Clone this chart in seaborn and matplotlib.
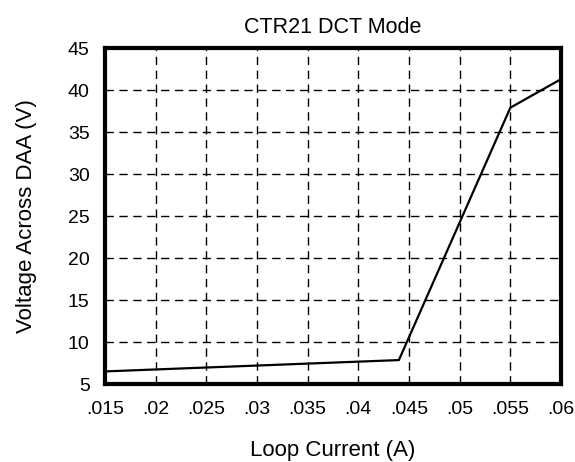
import matplotlib
matplotlib.use('Agg')
import matplotlib.pyplot as plt
import seaborn as sns
import pandas as pd

# data
loop_current = [0.015, 0.044, 0.055, 0.060]
voltage = [6.5, 7.85, 37.9, 41.3]
x_ticks = [0.015, 0.02, 0.025, 0.03, 0.035, 0.04, 0.045, 0.05, 0.055, 0.06]
x_labels = ['.015', '.02', '.025', '.03', '.035', '.04', '.045', '.05', '.055', '.06']
y_ticks = [5, 10, 15, 20, 25, 30, 35, 40, 45]

df = pd.DataFrame({'current': loop_current, 'voltage': voltage})

sns.set_style('white')
plt.rcParams['font.family'] = ['Liberation Sans', 'DejaVu Sans']
plt.rcParams['text.color'] = 'black'
plt.rcParams['axes.labelcolor'] = 'black'

fig = plt.figure(figsize=(5.75, 4.62), dpi=100)
ax = fig.add_axes([0.1826, 0.1688, 0.7931, 0.7272])

sns.lineplot(data=df, x='current', y='voltage', color='black', linewidth=1.6, ax=ax)

ax.set_xlim(0.015, 0.06)
ax.set_ylim(5, 45)
ax.set_xticks(x_ticks)
ax.set_xticklabels(x_labels)
ax.set_yticks(y_ticks)
ax.tick_params(axis='x', length=0, labelsize=14, labelcolor='black', pad=12)
ax.tick_params(axis='y', length=0, labelsize=14, labelcolor='black', pad=11)

ax.grid(True, color='black', linestyle=(0, (6, 4)), linewidth=1.0)
for s in ax.spines.values():
    s.set_visible(True)
    s.set_color('black')
    s.set_linewidth(3)

ax.set_title('CTR21 DCT Mode', fontsize=15.5, pad=11, color='black')
ax.set_xlabel('Loop Current (A)', fontsize=16, labelpad=16, color='black')
ax.set_ylabel('Voltage Across DAA (V)', fontsize=16, labelpad=22, color='black')

fig.savefig('out.png', dpi=100)
